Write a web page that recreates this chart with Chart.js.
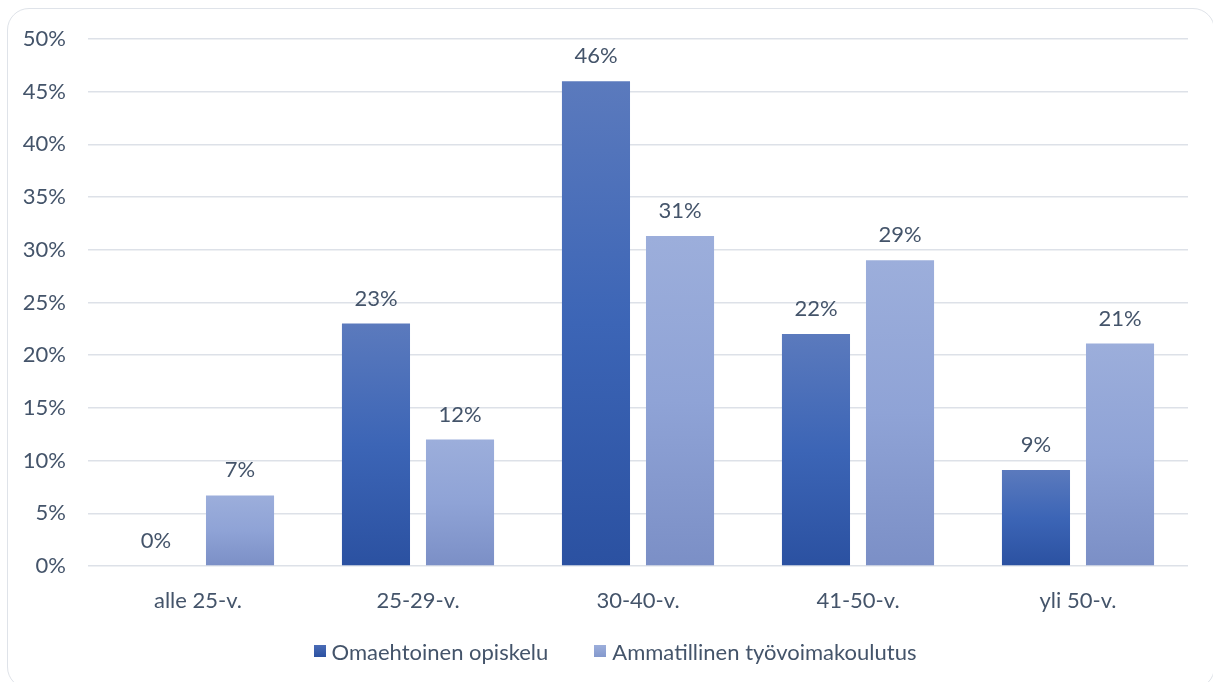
<!DOCTYPE html>
<html lang="fi">
<head>
    <meta charset="UTF-8">
    <title>Ikäjakauma</title>
    <script src="https://cdn.jsdelivr.net/npm/chart.js"></script>
    <style>
        body {
            margin: 0;
            background: #ffffff;
            overflow: hidden;
            font-family: Lato, 'Open Sans', sans-serif;
        }
        #frame {
            position: absolute;
            left: 7px;
            top: 8px;
            width: 1206px;
            height: 679px;
            border: 1.5px solid #dfe3e9;
            border-radius: 22px;
        }
        #wrap {
            position: absolute;
            left: 0;
            top: 0;
            width: 1213px;
            height: 682px;
        }
        #legend {
            position: absolute;
            left: 0;
            width: 1230px;
            top: 636px;
            height: 30px;
            display: flex;
            justify-content: center;
            align-items: center;
            gap: 46px;
            color: #44546a;
            font-size: 22px;
        }
        #legend .item {
            display: flex;
            align-items: center;
        }
        #legend .box {
            width: 12px;
            height: 12px;
            margin-right: 6px;
        }
    </style>
</head>
<body>
    <div id="frame"></div>
    <div id="wrap"><canvas id="chart"></canvas></div>
    <div id="legend"></div>
    <script>
        const categories = ['alle 25-v.', '25-29-v.', '30-40-v.', '41-50-v.', 'yli 50-v.'];
        const seriesNames = ['Omaehtoinen opiskelu', 'Ammatillinen työvoimakoulutus'];
        const omaehtoinen = [0, 23, 46, 22, 9.1];
        const tyovoimakoulutus = [6.7, 12, 31.3, 29, 21.1];
        const yTicks = [0, 5, 10, 15, 20, 25, 30, 35, 40, 45, 50];

        const textColor = '#44546a';
        const font = "Lato, 'Open Sans', sans-serif";
        const solid = ['#3a5fae', '#90a4d6'];

        // gradient for each bar, top -> bottom
        function barFill(stops, solidColor) {
            return function (ctx) {
                const chart = ctx.chart;
                if (!chart.chartArea || ctx.raw === undefined) return solidColor;
                const y = chart.scales.y;
                const top = y.getPixelForValue(ctx.raw);
                const bottom = y.getPixelForValue(0);
                if (bottom - top < 1) return solidColor;
                const g = chart.ctx.createLinearGradient(0, top, 0, bottom);
                g.addColorStop(0, stops[0]);
                g.addColorStop(0.5, stops[1]);
                g.addColorStop(1, stops[2]);
                return g;
            };
        }

        const valueLabels = {
            id: 'valueLabels',
            afterDatasetsDraw(chart) {
                const c = chart.ctx;
                c.save();
                c.fillStyle = textColor;
                c.font = '22px ' + font;
                c.textAlign = 'center';
                c.textBaseline = 'middle';
                chart.data.datasets.forEach((ds, i) => {
                    chart.getDatasetMeta(i).data.forEach((bar, j) => {
                        c.fillText(Math.round(ds.data[j]) + '%', bar.x, bar.y - 25);
                    });
                });
                c.restore();
            }
        };

        const chart = new Chart(document.getElementById('chart'), {
            type: 'bar',
            data: {
                labels: categories,
                datasets: [
                    {
                        label: seriesNames[0],
                        data: omaehtoinen,
                        backgroundColor: barFill(['#5b7abd', '#3c65b6', '#2b51a1'], solid[0])
                    },
                    {
                        label: seriesNames[1],
                        data: tyovoimakoulutus,
                        backgroundColor: barFill(['#9caedb', '#8fa3d6', '#7b8fc6'], solid[1])
                    }
                ]
            },
            options: {
                responsive: true,
                maintainAspectRatio: false,
                animation: false,
                categoryPercentage: 0.764,
                barPercentage: 0.81,
                layout: {
                    padding: { top: 39, right: 25, left: 0, bottom: 62 }
                },
                scales: {
                    x: {
                        afterFit(scale) { scale.height = 54; },
                        grid: { display: false },
                        border: { display: false },
                        ticks: {
                            color: textColor,
                            font: { family: font, size: 22 },
                            padding: 14
                        }
                    },
                    y: {
                        min: 0,
                        max: 50,
                        afterFit(scale) { scale.width = 88; },
                        afterBuildTicks(scale) {
                            scale.ticks = yTicks.map(v => ({ value: v }));
                        },
                        grid: {
                            color: '#dde1e8',
                            lineWidth: 1.5,
                            drawTicks: false
                        },
                        border: { display: false },
                        ticks: {
                            color: textColor,
                            font: { family: font, size: 22 },
                            padding: 22,
                            callback: v => v + '%'
                        }
                    }
                },
                plugins: {
                    legend: { display: false },
                    tooltip: { enabled: false }
                }
            },
            plugins: [valueLabels]
        });

        // legend below the chart
        const legend = document.getElementById('legend');
        chart.data.datasets.forEach((ds, i) => {
            const item = document.createElement('span');
            item.className = 'item';
            const box = document.createElement('span');
            box.className = 'box';
            box.style.background = 'linear-gradient(' + (i === 0 ? '#4a6cb6, #2b51a1' : '#9caedb, #8499cd') + ')';
            item.appendChild(box);
            item.appendChild(document.createTextNode(ds.label));
            legend.appendChild(item);
        });
    </script>
</body>
</html>
